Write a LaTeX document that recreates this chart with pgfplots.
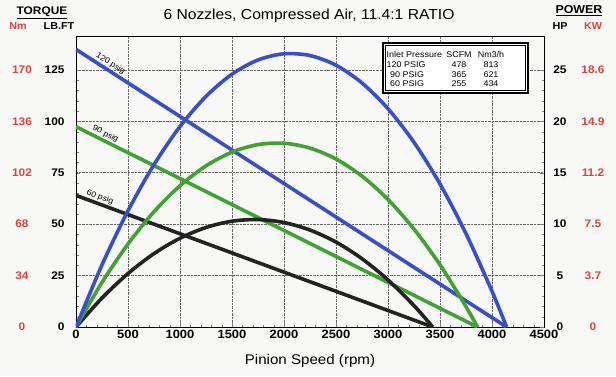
\documentclass[border=0pt]{standalone}
\usepackage{fontspec}
\setmainfont{Liberation Sans}[FakeStretch=1.08]
\usepackage{pgfplots}
\pgfplotsset{compat=1.18}
\definecolor{cblue}{HTML}{3A4FC6}
\definecolor{cgreen}{HTML}{42A035}
\definecolor{cblack}{HTML}{232323}
\definecolor{cred}{HTML}{D8453C}
\definecolor{bg}{HTML}{F8F8F7}
\definecolor{gridc}{HTML}{6A6A6A}
\pgfplotsset{
 base/.style={scale only axis, width=468pt, height=291pt, xmin=0, xmax=4500, ymin=0,
   /pgf/number format/assume math mode=true, /pgf/number format/1000 sep={},
   tick label style={font=\fontsize{11}{11}\selectfont\bfseries}},
}
\begin{document}
\begin{tikzpicture}
\path[use as bounding box, fill=bg] (-76pt,-49pt) rectangle (540pt,327pt);
% torque axis (lb.ft)
\begin{axis}[base, ymax=141.5,
  xtick={0,500,...,4500}, ytick={0,25,...,125},
  minor x tick num=4, minor y tick num=4, tick pos=left,
  grid=major, grid style={gridc, densely dotted, line width=0.7pt},
  axis line style={line width=0.9pt},
  major tick length=4pt, minor tick length=2.5pt,
  yticklabel style={xshift=-8pt},
  xticklabel style={font=\fontsize{12}{12}\selectfont\bfseries},
  xlabel={Pinion Speed (rpm)},
  xlabel style={at={(axis description cs:0.5,0)}, anchor=center, yshift=-34pt, font=\fontsize{14}{14}\selectfont}]
\addplot[cblack, line width=3.6pt] coordinates {(0,64) (3430,0)}
  node[pos=0.06, sloped, above, text=black, font=\fontsize{8}{8}\selectfont, inner sep=1pt]{60 psig};
\addplot[cgreen, line width=3.6pt] coordinates {(0,97.4) (3860,0)}
  node[pos=0.066, sloped, above, text=black, font=\fontsize{8}{8}\selectfont, inner sep=1pt]{90 psig};
\addplot[cblue, line width=3.6pt] coordinates {(0,135) (4140,0)}
  node[pos=0.072, sloped, above, text=black, font=\fontsize{8}{8}\selectfont, inner sep=1pt]{120 psig};
\end{axis}
% power axis (HP)
\begin{axis}[base, ymax=28.3, axis x line=none, axis y line*=right,
  ytick={0,5,...,25}, minor y tick num=4,
  axis line style={line width=0.9pt},
  major tick length=4pt, minor tick length=2.5pt,
  yticklabel style={anchor=center, xshift=16pt}]
\addplot[cblack, line width=3.6pt, smooth] coordinates {
 (0,0) (250,2.82) (500,5.20) (750,7.14) (1000,8.63) (1250,9.68) (1500,10.29)
 (1750,10.45) (2000,10.16) (2250,9.43) (2500,8.26) (2750,6.64) (3000,4.58)
 (3250,2.08) (3430,0)};
\addplot[cgreen, line width=3.6pt, smooth] coordinates {
 (0,0) (250,4.34) (500,8.07) (750,11.21) (1000,13.74) (1250,15.67) (1500,17.01)
 (1750,17.74) (2000,17.87) (2250,17.40) (2500,16.34) (2750,14.67) (3000,12.40)
 (3250,9.52) (3500,6.05) (3750,1.98) (3860,0)};
\addplot[cblue, line width=3.6pt, smooth] coordinates {
 (0,0) (250,6.04) (500,11.30) (750,15.79) (1000,19.50) (1250,22.43) (1500,24.59)
 (1750,25.97) (2000,26.57) (2250,26.40) (2500,25.46) (2750,23.73) (3000,21.23)
 (3250,17.96) (3500,13.91) (3750,9.08) (4000,3.48) (4140,0)};
\end{axis}
% Nm labels
\begin{axis}[base, ymax=141.5, axis x line=none, axis y line*=left,
  y axis line style={draw=none}, ytick={0,25,...,125},
  yticklabels={0,34,68,102,136,170}, major tick length=0pt, minor tick num=0,
  yticklabel style={text=cred, anchor=center, xshift=-54pt}]
\addplot[draw=none] coordinates {(0,0)};
\end{axis}
% kW labels
\begin{axis}[base, ymax=28.3, axis x line=none, axis y line*=right,
  y axis line style={draw=none}, ytick={0,5,...,25},
  yticklabels={0,3.7,7.5,11.2,14.9,18.6}, major tick length=0pt, minor tick num=0,
  yticklabel style={text=cred, anchor=center, xshift=49pt}]
\addplot[draw=none] coordinates {(0,0)};
\end{axis}
% headers
\node[font=\fontsize{14.5}{14.5}\selectfont] at (233pt,311pt) {6 Nozzles, Compressed Air, 11.4:1 RATIO};
\node[font=\fontsize{11}{11}\selectfont\bfseries] at (-34pt,314.5pt) {\underline{TORQUE}};
\node[font=\fontsize{10}{10}\selectfont\bfseries, text=cred] at (-58pt,301pt) {Nm};
\node[font=\fontsize{10}{10}\selectfont\bfseries] at (-17pt,301pt) {LB.FT};
\node[font=\fontsize{11.5}{11.5}\selectfont\bfseries] at (503pt,316pt) {\underline{POWER}};
\node[font=\fontsize{10}{10}\selectfont\bfseries] at (484pt,301pt) {HP};
\node[font=\fontsize{10}{10}\selectfont\bfseries, text=cred] at (517pt,301pt) {KW};
% inlet pressure table
\fill[white] (307pt,234pt) rectangle (452pt,284pt);
\draw[line width=1.3pt] (307pt,234pt) rectangle (452pt,284pt);
\draw[line width=0.5pt] (309.5pt,236.5pt) rectangle (449.5pt,281.5pt);
\begin{scope}[every node/.style={font=\fontsize{8.3}{8.3}\selectfont, inner sep=0pt}]
\node[anchor=west] at (310.5pt,272pt) {Inlet Pressure};
\node at (383pt,272pt) {SCFM};
\node at (415pt,272pt) {Nm3/h};
\node[anchor=west] at (310.5pt,262pt) {120 PSIG};
\node at (383pt,262pt) {478};
\node at (415pt,262pt) {813};
\node[anchor=west] at (314pt,252pt) {90 PSIG};
\node at (383pt,252pt) {365};
\node at (415pt,252pt) {621};
\node[anchor=west] at (314pt,243pt) {60 PSIG};
\node at (383pt,243pt) {255};
\node at (415pt,243pt) {434};
\end{scope}
\end{tikzpicture}
\end{document}
